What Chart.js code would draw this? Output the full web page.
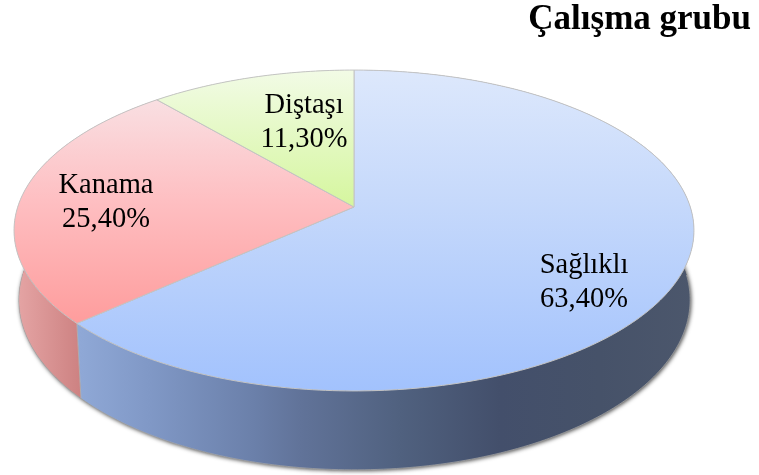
<!DOCTYPE html>
<html>
<head>
<meta charset="utf-8">
<style>html,body{margin:0;padding:0;background:#fff}canvas{display:block}</style>
<script src="https://cdn.jsdelivr.net/npm/chart.js@4"></script>
</head>
<body>
<canvas id="c" width="759" height="475"></canvas>
<script>
const categories = ['Sağlıklı', 'Kanama', 'Diştaşı'];
const values = [63.4, 25.4, 11.3];
const titleText = 'Çalışma grubu';
const baseColors = ['#b8d0fb', '#fdb8b8', '#e2f7bd'];

// projection of the pie disc (style / layout only)
const TOP = {cx:354, cy:207, a:336.3, b:157, k:-0.1464};
const BOTTOM = {cx:354.5, cy:275, a:332, b:166.3, k:-0.1464};
const FACE = [
  [[70,'#dde8fc'],[200,'#c6d9fb'],[391,'#a2c2fd']],
  [[100,'#f9dfe2'],[200,'#febfc2'],[322,'#fe9d9d']],
  [[70,'#f2fbe6'],[207,'#d5f69e']]
];
const SIDE = [
  [[80,'#8fa8d6'],[150,'#8098c6'],[253,'#6b80aa'],[300,'#617399'],[400,'#50617f'],[500,'#434f6b'],[600,'#465269'],[694,'#4c576c']],
  [[14,'#e6a6a6'],[80,'#cd8282']],
  [[100,'#c8dca0'],[354,'#a8c080']]
];
const LABEL_AT = [[584,273],[106,193],[304,113]];
const LINE_GAP = 34;

function pt(p, ang){
  const u = Math.cos(ang), v = Math.sin(ang), d = 1 + p.k * v;
  return [p.cx + p.a * u / d, p.cy + p.b * v / d];
}
function grad(ctx, stops, vertical){
  const a = stops[0][0], b = stops[stops.length-1][0];
  const g = vertical ? ctx.createLinearGradient(0,a,0,b) : ctx.createLinearGradient(a,0,b,0);
  stops.forEach(s => g.addColorStop((s[0]-a)/(b-a), s[1]));
  return g;
}
function trace(ctx, p, a0, a1, first){
  const n = Math.max(8, Math.ceil(Math.abs(a1-a0)*60));
  for(let i=0;i<=n;i++){
    const q = pt(p, a0+(a1-a0)*i/n);
    if(i===0 && first) ctx.moveTo(q[0],q[1]); else ctx.lineTo(q[0],q[1]);
  }
}
const pie3d = {
  id:'pie3d',
  beforeDatasetDraw(chart){
    const ctx = chart.ctx, arcs = chart.getDatasetMeta(0).data;
    ctx.save();
    // cast shadow of the whole lower body
    ctx.save();
    ctx.shadowColor='rgba(0,0,0,0.75)'; ctx.shadowBlur=4; ctx.shadowOffsetX=1; ctx.shadowOffsetY=1;
    ctx.fillStyle='#666';
    ctx.beginPath(); trace(ctx,BOTTOM,0,Math.PI*2,true); ctx.closePath(); ctx.fill();
    ctx.restore();
    // sides
    arcs.forEach((arc,i)=>{
      ctx.beginPath();
      trace(ctx,TOP,arc.startAngle,arc.endAngle,true);
      trace(ctx,BOTTOM,arc.endAngle,arc.startAngle,false);
      ctx.closePath();
      ctx.fillStyle=grad(ctx,SIDE[i],false);
      ctx.fill();
      ctx.strokeStyle='#b5b5b5'; ctx.lineWidth=0.8; 
      const a=pt(TOP,arc.startAngle), b=pt(BOTTOM,arc.startAngle);
      const s=Math.sin(arc.startAngle);
      if(s>0){ctx.beginPath();ctx.moveTo(a[0],a[1]);ctx.lineTo(b[0],b[1]);ctx.stroke();}
    });
    // bottom rim
    ctx.beginPath(); trace(ctx,BOTTOM,0,Math.PI,true);
    ctx.strokeStyle='rgba(175,175,175,0.8)'; ctx.lineWidth=0.8; ctx.stroke();
    // top faces
    arcs.forEach((arc,i)=>{
      ctx.beginPath();
      ctx.moveTo(TOP.cx,TOP.cy);
      trace(ctx,TOP,arc.startAngle,arc.endAngle,false);
      ctx.closePath();
      ctx.fillStyle=grad(ctx,FACE[i],true);
      ctx.fill();
      ctx.strokeStyle='#c4c4c4'; ctx.lineWidth=1; ctx.lineJoin='round';
      ctx.stroke();
    });
    ctx.restore();
    return false;
  },
  afterDatasetsDraw(chart){
    const ctx = chart.ctx;
    ctx.save();
    ctx.fillStyle='#000';
    ctx.font='28.5px "Liberation Serif"';
    ctx.textAlign='center';
    ctx.textBaseline='alphabetic';
    categories.forEach((c,i)=>{
      const pos = LABEL_AT[i];
      ctx.fillText(c,pos[0],pos[1]);
      ctx.fillText(values[i].toFixed(2).replace('.',',')+'%',pos[0],pos[1]+LINE_GAP);
    });
    ctx.restore();
  }
};
new Chart(document.getElementById('c'),{
  type:'pie',
  data:{labels:categories,datasets:[{data:values,backgroundColor:baseColors,borderColor:'#bcbcbc',borderWidth:1}]},
  plugins:[pie3d],
  options:{
    responsive:false,
    animation:false,
    layout:{padding:{right:8}},
    plugins:{
      legend:{display:false},
      tooltip:{enabled:false},
      title:{display:true,text:titleText,align:'end',color:'#000',
        font:{family:'"Liberation Serif"',size:35,weight:'bold',lineHeight:1.15},
        padding:{top:0,bottom:8}}
    }
  }
});
</script>
</body>
</html>
